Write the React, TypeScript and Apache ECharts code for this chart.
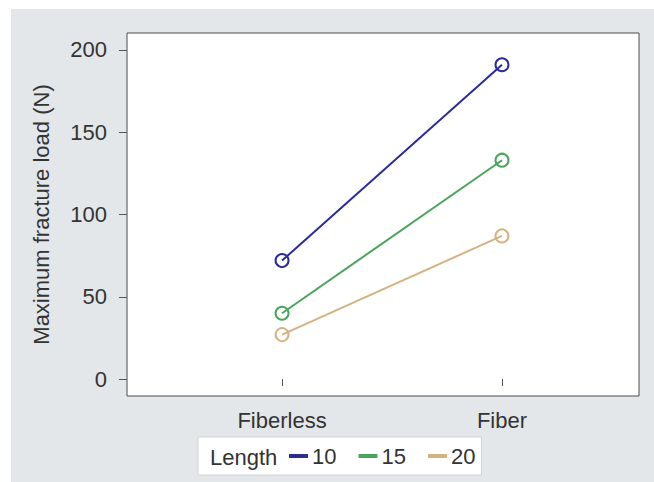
import React, { useEffect, useRef } from "react";
import * as echarts from "echarts";

const categories = ["Fiberless", "Fiber"];
const categoryPositions = [1, 2];
const seriesNames = ["10", "15", "20"];
const values10 = [72, 191];
const values15 = [40, 133];
const values20 = [27, 87];
const yTicks = [0, 50, 100, 150, 200];
const colors = ["#2b2c96", "#4ba45c", "#d5b282"];

const FONT = "'Liberation Sans', Arial, Helvetica, sans-serif";
const FS = 22;

export default function App() {
  const ref = useRef<HTMLDivElement>(null);
  useEffect(() => {
    if (!ref.current) return;
    const chart = echarts.init(ref.current, undefined, { renderer: "svg" });
    const allValues = [values10, values15, values20];
    const series = seriesNames.map((name, i) => ({
      name,
      type: "line",
      data: allValues[i].map((v, j) => [categoryPositions[j], v]),
      symbol: "circle",
      symbolSize: 13,
      lineStyle: { color: colors[i], width: 2 },
      itemStyle: { color: "rgba(0,0,0,0)", borderColor: colors[i], borderWidth: 2 },
      emphasis: { disabled: true },
      z: 3,
    }));
    chart.setOption({
      animation: false,
      backgroundColor: "#ffffff",
      textStyle: { fontFamily: FONT },
      graphic: [
        {
          type: "rect",
          z: -10,
          shape: { x: 11, y: 9, width: 660, height: 490 },
          style: { fill: "#e4e7ea" },
          silent: true,
        },
        {
          type: "text",
          z: 100,
          x: 210,
          y: 457,
          style: {
            text: "Length",
            fontSize: FS,
            fontFamily: FONT,
            fill: "#333333",
            verticalAlign: "middle",
          },
        },
      ],
      grid: {
        left: 127,
        top: 33,
        width: 512,
        height: 363,
        show: true,
        backgroundColor: "#ffffff",
        borderColor: "#4a4a4a",
        borderWidth: 1,
        containLabel: false,
      },
      legend: {
        left: 198,
        top: 437,
        padding: [8, 6, 8, 91],
        backgroundColor: "#ffffff",
        borderColor: "#d0d3d6",
        borderWidth: 1,
        icon: "rect",
        itemWidth: 17,
        itemHeight: 2,
        itemGap: 22,
        textStyle: { fontSize: FS, color: "#333333", fontFamily: FONT },
        data: seriesNames.map((n, i) => ({ name: n, itemStyle: { color: colors[i] } })),
      },
      xAxis: {
        type: "value",
        min: 0.295,
        max: 2.623,
        axisLine: { show: false },
        splitLine: { show: false },
        axisTick: {
          show: true,
          length: 7,
          lineStyle: { color: "#555555" },
          customValues: categoryPositions,
        },
        axisLabel: {
          fontSize: FS,
          color: "#333333",
          margin: 13,
          customValues: categoryPositions,
          formatter: (v: number) => {
            const idx = categoryPositions.indexOf(v);
            return idx >= 0 ? categories[idx] : "";
          },
        },
      },
      yAxis: {
        type: "value",
        min: -10.3,
        max: 210.3,
        name: "Maximum fracture load (N)",
        nameLocation: "middle",
        nameGap: 75,
        nameTextStyle: { fontSize: FS, color: "#333333", fontFamily: FONT },
        axisLine: { show: false },
        splitLine: { show: false },
        axisTick: {
          show: true,
          length: 8,
          lineStyle: { color: "#555555" },
          customValues: yTicks,
        },
        axisLabel: {
          fontSize: FS,
          color: "#333333",
          margin: 20,
          customValues: yTicks,
        },
      },
      series,
    });
    return () => chart.dispose();
  }, []);
  return (
    <div
      ref={ref}
      style={{ position: "fixed", left: 0, top: 0, width: 654, height: 482 }}
    />
  );
}
